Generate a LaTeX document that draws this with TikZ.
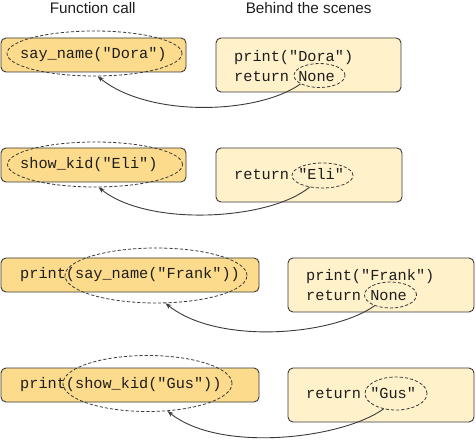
\documentclass[tikz,border=0pt]{standalone}
\usepackage{fontspec}
\setmainfont{Liberation Sans}
\setmonofont{Liberation Mono}
\usetikzlibrary{shapes.geometric,arrows.meta}
\definecolor{callfill}{HTML}{FCDB8C}
\definecolor{behindfill}{HTML}{FFF1CA}
\definecolor{edgegray}{HTML}{3A3A3A}
\definecolor{inkgray}{HTML}{1E1E1E}
\tikzset{
  codefont/.style={font=\fontsize{15.25}{20}\selectfont\ttfamily, text=inkgray},
  callbox/.style={draw=edgegray, line width=0.9pt, fill=callfill, rounded corners=5pt,
    inner sep=0pt, minimum height=34pt},
  behindbox/.style={draw=edgegray, line width=0.9pt, fill=behindfill, rounded corners=5pt,
    inner sep=0pt, minimum height=54pt},
  codetext/.style={codefont, inner sep=0pt, anchor=west, align=left},
  ring/.style={ellipse, draw=edgegray, line width=0.8pt, dash pattern=on 3.2pt off 2pt,
    inner sep=0pt},
  header/.style={font=\fontsize{15.3}{18}\selectfont, text=inkgray},
  ret/.style={draw=edgegray, line width=0.9pt, -{Stealth[length=6pt,width=4.5pt]}}
}
\begin{document}
\begin{tikzpicture}[x=1pt,y=-1pt]
\useasboundingbox (0,0) rectangle (476,443);

\node[header] (h1) at (92.7,8) {Function call};
\node[header] (h2) at (308.7,8) {Behind the scenes};

% Row 1
\node[callbox, minimum width=185pt] (c1) at (93.5,55) {};
\node[codetext] (s1) at (20,55) {say\_name("Dora")};
\node[behindbox, minimum width=185pt] (b1) at (308.5,65) {};
\node[codetext] (t1) at (234,65.7) {print("Dora")\\return None};
\node[ring, minimum width=175pt, minimum height=45pt] (e1) at (94.5,53.5) {};
\node[ring, minimum width=51pt, minimum height=24pt] (n1) at (319.5,75.5) {};
\draw[ret] (n1.204) .. controls +(-42,30) and +(52,42) .. (e1.-82);

% Row 2
\node[callbox, minimum width=185pt] (c2) at (93.5,165) {};
\node[codetext] (s2) at (20,165) {show\_kid("Eli")};
\node[behindbox, minimum width=186pt] (b2) at (309,175) {};
\node[codetext] (t2) at (234,174) {return "Eli"};
\node[ring, minimum width=175pt, minimum height=45pt] (e2) at (95,164.5) {};
\node[ring, minimum width=61pt, minimum height=25pt] (n2) at (322.5,175.5) {};
\draw[ret] (n2.222) .. controls +(-40,33) and +(50,40) .. (e2.-81);

% Row 3
\node[callbox, minimum width=258pt] (c3) at (130,275) {};
\node[codetext] (s3) at (20,275) {print(say\_name("Frank"))};
\node[behindbox, minimum width=186pt] (b3) at (381,285) {};
\node[codetext] (t3) at (306,285) {print("Frank")\\return None};
\node[ring, minimum width=182pt, minimum height=55pt] (e3) at (156,275.5) {};
\node[ring, minimum width=52pt, minimum height=26pt] (n3) at (390.5,295) {};
\draw[ret] (n3.214) .. controls +(-42,30) and +(52,42) .. (e3.-71);

% Row 4
\node[callbox, minimum width=258pt] (c4) at (130,385) {};
\node[codetext] (s4) at (20,385) {print(show\_kid("Gus"))};
\node[behindbox, minimum width=186pt] (b4) at (381,395) {};
\node[codetext] (t4) at (306,393.5) {return "Gus"};
\node[ring, minimum width=169pt, minimum height=56pt] (e4) at (147.5,383.5) {};
\node[ring, minimum width=62pt, minimum height=33pt] (n4) at (396,393.5) {};
\draw[ret] (n4.231) .. controls +(-42,30) and +(52,42) .. (e4.-54);
\end{tikzpicture}
\end{document}
